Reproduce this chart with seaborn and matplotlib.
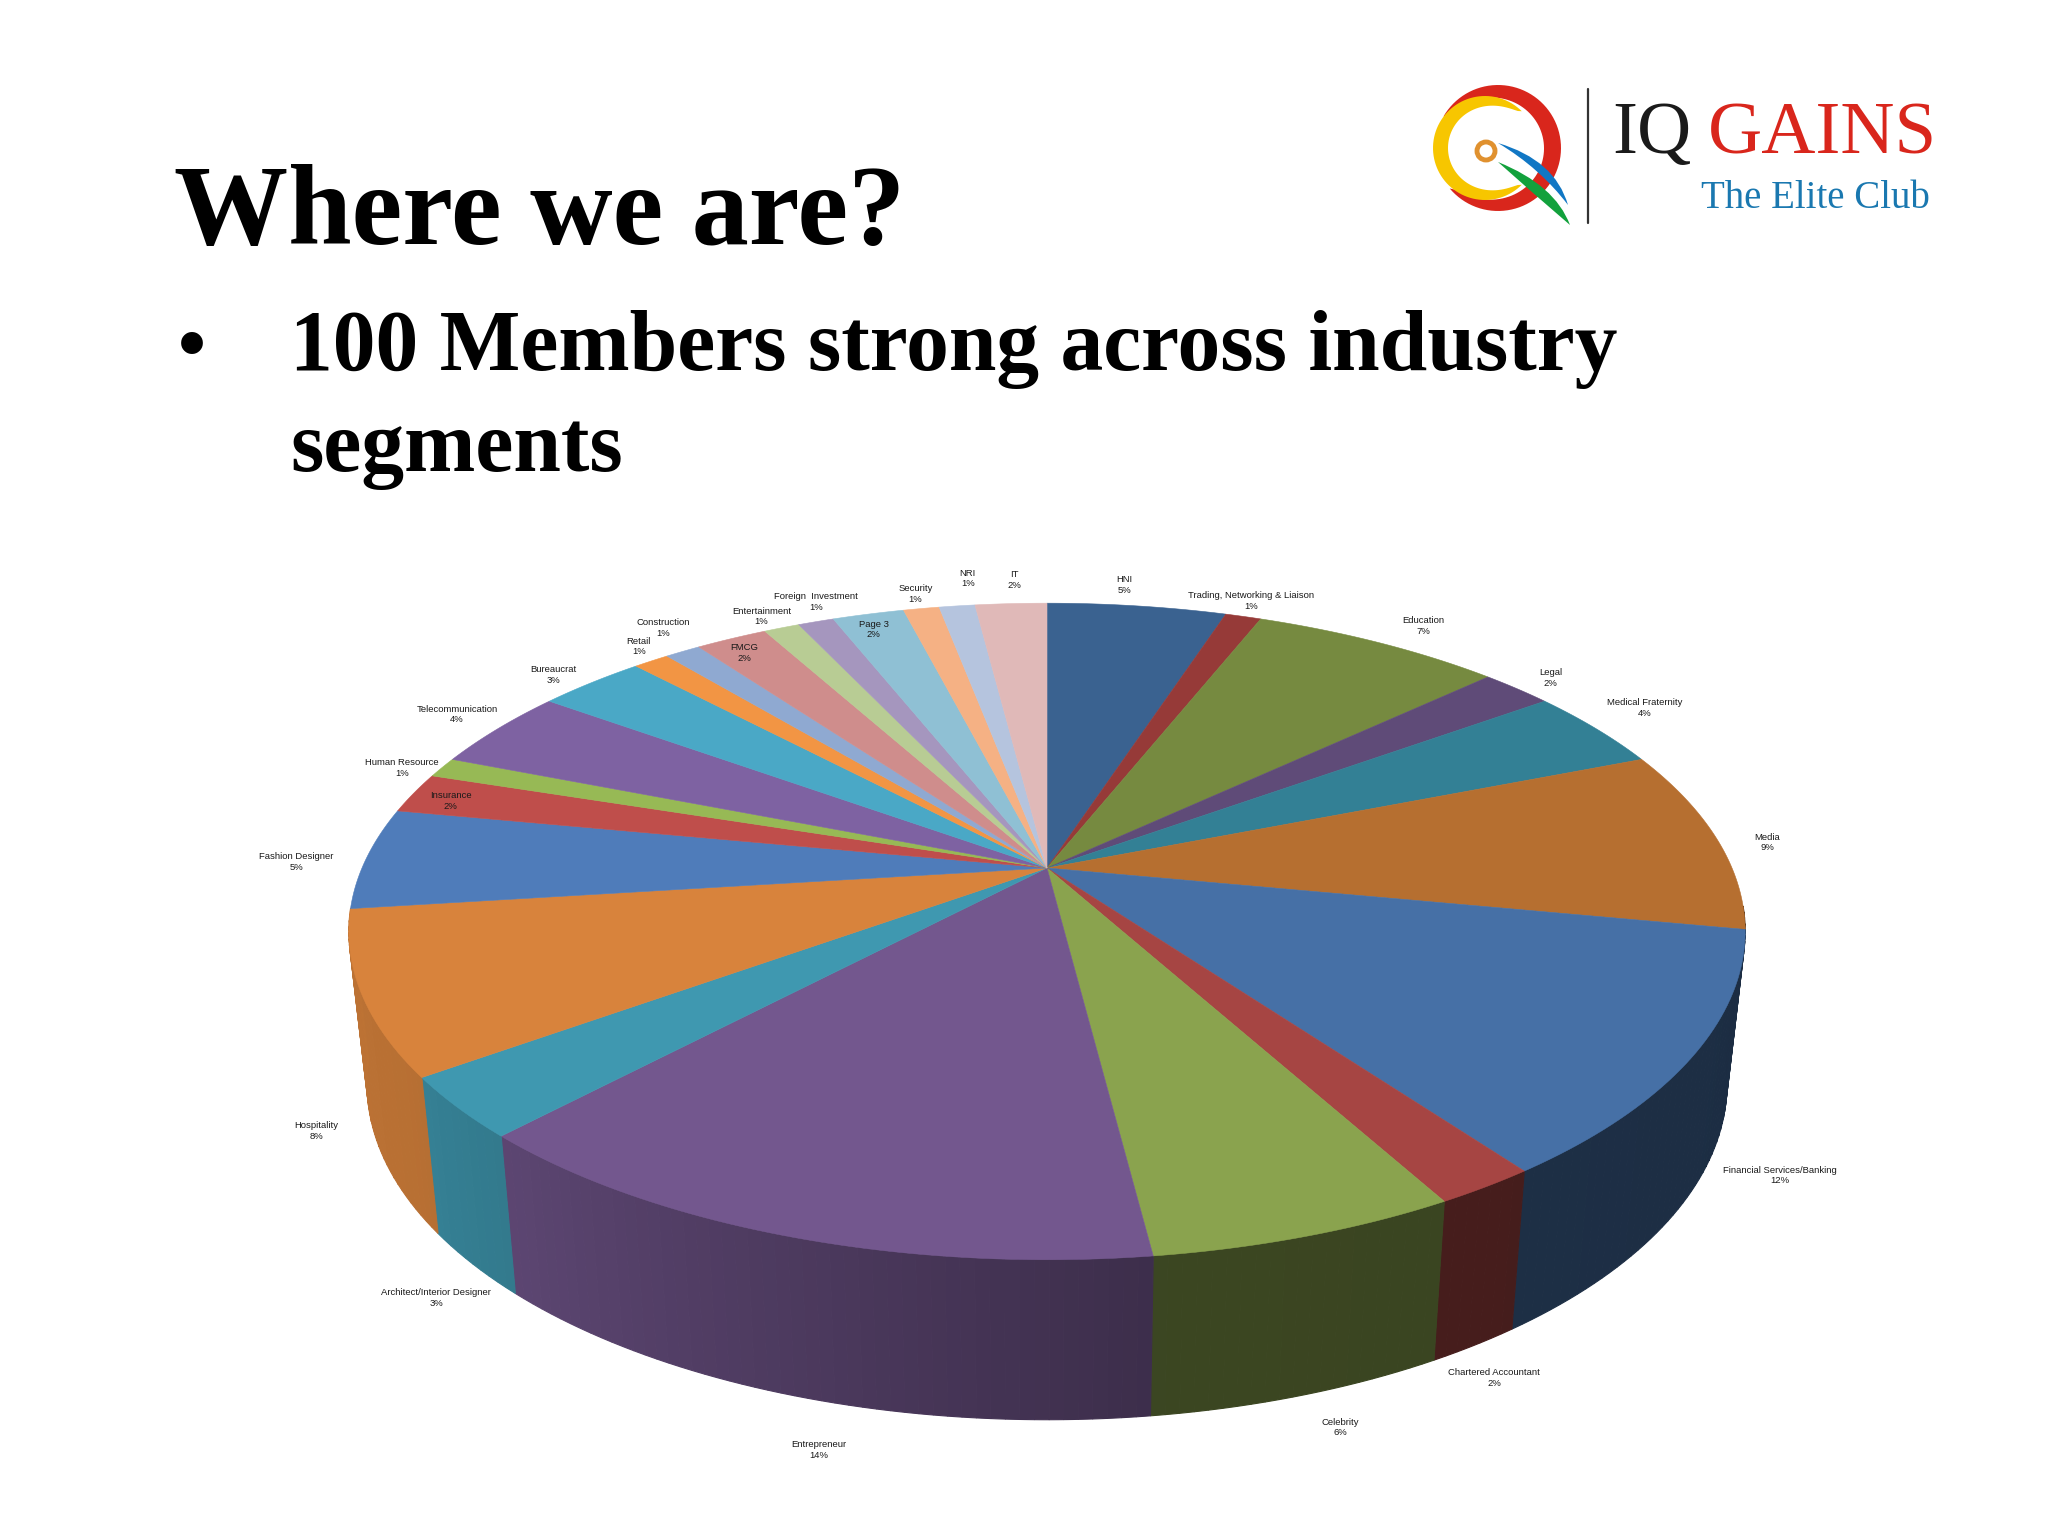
"""
Where we are? slide: 3D pie of members by industry segment, with the logo.
"""

import numpy as np
import pandas as pd
import matplotlib
matplotlib.use("Agg")
import matplotlib.pyplot as plt
from matplotlib.patches import PathPatch, Polygon
from matplotlib.path import Path
from matplotlib.colors import to_rgb
import seaborn as sns

# Data, clockwise from 12 o'clock
categories = [
    "HNI", "Trading, Networking & Liaison", "Education", "Legal", "Medical Fraternity",
    "Media", "Financial Services/Banking", "Chartered Accountant", "Celebrity",
    "Entrepreneur", "Architect/Interior Designer", "Hospitality", "Fashion Designer",
    "Insurance", "Human Resource", "Telecommunication", "Bureaucrat", "Retail",
    "Construction", "FMCG", "Entertainment", "Foreign  Investment", "Page 3",
    "Security", "NRI", "IT",
]
percents = [5, 1, 7, 2, 4, 9, 12, 2, 6, 14, 3, 8, 5, 2, 1, 4, 3, 1, 1, 2, 1, 1, 2, 1, 1, 2]
slice_colors = [
    "#3a6290", "#963a38", "#768a40", "#5f4b78", "#338095", "#b66f30", "#4670a6",
    "#a64543", "#8aa34e", "#73578e", "#3f98b0", "#d8833c", "#4f7cba", "#bf4e4b",
    "#97b955", "#7e62a2", "#4aa8c6", "#f29544", "#8fa9d1", "#cf8d8c", "#b8cc94",
    "#a596be", "#8fc0d4", "#f5b184", "#b5c4de", "#e0b9b8",
]
# label centres as seen on the 1568 px wide preview
label_x = [861, 958, 1090, 1187, 1259, 1353, 1363, 1144, 1026, 627, 334, 242, 227,
           345, 308, 350, 424, 489, 508, 570, 583, 625, 669, 701, 741, 777]
label_y = [448, 460, 479, 519, 542, 645, 900, 1055, 1093, 1110, 994, 866, 660,
           613, 588, 547, 517, 495, 481, 500, 472, 461, 482, 455, 443, 444]

df = pd.DataFrame({"category": categories, "percent": percents, "color": slice_colors,
                   "label_x": label_x, "label_y": label_y})

PREVIEW_SCALE = 2048 / 1568
SERIF = "Liberation Serif"

# Projection of the pie disc, in pixels
CX, CY = 1047, 868
RX, RY = 685, 316
TILT = 0.1933
SIDE_SCALE = 0.974


def project(theta, lower=False):
    """Map a clockwise angle in degrees to picture pixels, top or bottom rim."""
    rad = np.radians(theta)
    u, v = np.sin(rad), np.cos(rad)
    w = 1 + TILT * v
    x = RX * u / w
    y = CY - RY * v / w
    if lower:
        x = x * SIDE_SCALE
        y = y + 150 - 10 * v
    return CX + x, y


def side_shade(theta):
    """Light falls from the left, the right of the wall is darkest."""
    return np.interp(theta, [100, 172.7, 172.9, 223, 236, 290],
                     [0.40, 0.43, 0.53, 0.80, 0.85, 0.90])


def arc_band(cx, cy, r, thick, start, end, color):
    """Crescent: a circle arc whose thickness swells towards the middle."""
    a = np.radians(np.linspace(start, end, 80))
    s = np.linspace(0, 1, 80)
    inner = r - thick * np.sin(np.pi * s) ** 0.55
    outer_pts = np.c_[cx + r * np.cos(a), cy + r * np.sin(a)]
    inner_pts = np.c_[cx + inner * np.cos(a), cy + inner * np.sin(a)][::-1]
    return Polygon(np.r_[outer_pts, inner_pts], closed=True, fc=color, ec="none")


def swoosh(p0, c0, p1, c1, color):
    """Leaf shape made of two quadratic curves."""
    verts = [p0, c0, p1, c1, p0]
    codes = [Path.MOVETO, Path.CURVE3, Path.CURVE3, Path.CURVE3, Path.CURVE3]
    return PathPatch(Path(verts, codes), fc=color, ec="none")


sns.set_theme(style="white")
fig = plt.figure(figsize=(20.48, 15.36), dpi=100, facecolor="white")
ax = fig.add_axes([0, 0, 1, 1])
ax.set_xlim(0, 2048)
ax.set_ylim(1536, 0)
ax.axis("off")

edges = np.r_[0, np.cumsum(df["percent"])] * 3.6

# Wall of the pie first, in thin strips so the shading runs smoothly.
# Only the front of the rim can be seen, from Media round to Hospitality.
for i, row in df.iterrows():
    base = np.array(to_rgb(row["color"]))
    n = max(int(edges[i + 1] - edges[i]), 1)
    steps = np.linspace(edges[i], edges[i + 1], n + 1)
    for a, b in zip(steps[:-1], steps[1:]):
        mid = (a + b) / 2
        if np.cos(np.radians(mid)) > -0.12:
            continue
        shade = base * side_shade(mid)
        ts = np.linspace(a, b, 4)
        tx, ty = project(ts)
        bx, by = project(ts, lower=True)
        ax.fill(np.r_[tx, bx[::-1]], np.r_[ty, by[::-1]], color=shade, lw=0.8, zorder=2)

# Top of the pie
for i, row in df.iterrows():
    ts = np.linspace(edges[i], edges[i + 1], 60)
    x, y = project(ts)
    ax.fill(np.r_[CX, x], np.r_[CY, y], color=row["color"], lw=0.4, zorder=3)

# Data labels
for _, row in df.iterrows():
    ax.text(row["label_x"] * PREVIEW_SCALE, row["label_y"] * PREVIEW_SCALE,
            f"{row['category']}\n{row['percent']}%", ha="center", va="center",
            family="Liberation Sans", fontsize=6.8,
            color="#1a1a1a", linespacing=1.25, zorder=5)

# Slide text
ax.text(174, 244, "Where we are?", family=SERIF, weight="bold", fontsize=82.2,
        color="black", va="baseline")
ax.text(178, 370, "•", family=SERIF, weight="bold", fontsize=58, color="black", va="baseline")
ax.text(290, 370, "100 Members strong across industry", family=SERIF, weight="bold",
        fontsize=61.6, color="black", va="baseline")
ax.text(290, 471, "segments", family=SERIF, weight="bold", fontsize=61.6, color="black",
        va="baseline")

# Logo
ax.add_patch(arc_band(1498, 148, 63, 17, -150, 140, "#d9261c"))
ax.add_patch(arc_band(1485, 148, 52, 15, -45, -315, "#f7c600"))
ax.add_patch(plt.Circle((1486, 151), 9, fc="white", ec="#e0912f", lw=3.5, zorder=4))
ax.add_patch(swoosh((1498, 143), (1555, 160), (1568, 205), (1540, 168), "#1177c4"))
ax.add_patch(swoosh((1498, 162), (1555, 185), (1570, 225), (1535, 195), "#12a13c"))
ax.plot([1588, 1588], [89, 223], color="#333333", lw=1.6)
ax.text(1612, 153, "IQ", family=SERIF, fontsize=54, color="#1a1a1a", va="baseline")
ax.text(1708, 153, "GAINS", family=SERIF, fontsize=54, color="#d9261c", va="baseline")
ax.text(1930, 208, "The Elite Club", family=SERIF, fontsize=28, color="#1a78b0",
        ha="right", va="baseline")

fig.savefig("out.png", dpi=100, facecolor="white")
plt.close(fig)
